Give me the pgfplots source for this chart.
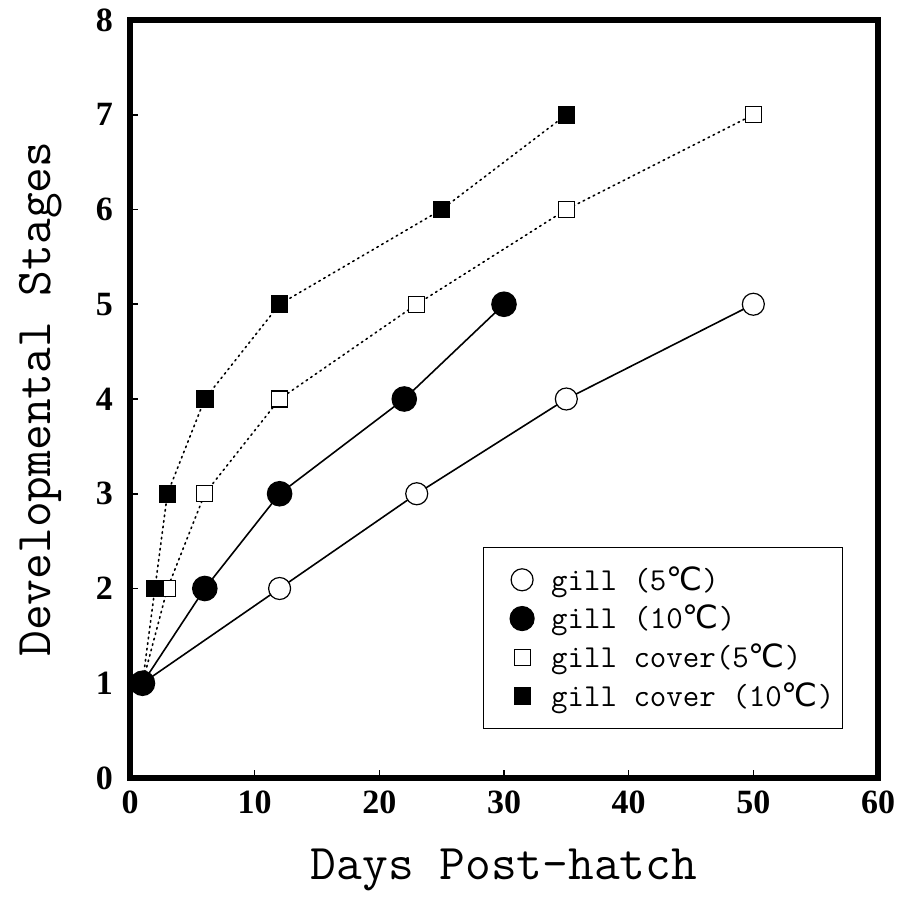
\documentclass[border=0pt]{standalone}
\usepackage{fontspec}
\usepackage{pgfplots}
\pgfplotsset{compat=1.18}
\setmainfont{Liberation Serif}
\newfontfamily\symfont{DejaVu Sans}
\newcommand{\degC}{{\symfont ℃}}

\pgfplotstableread{
x y
1 1
12 2
23 3
35 4
50 5
}\gillfive
\pgfplotstableread{
x y
1 1
6 2
12 3
22 4
30 5
}\gillten
\pgfplotstableread{
x y
1 1
3 2
6 3
12 4
23 5
35 6
50 7
}\coverfive
\pgfplotstableread{
x y
1 1
2 2
3 3
6 4
12 5
25 6
35 7
}\coverten

\begin{document}
\begin{tikzpicture}
\begin{axis}[
  scale only axis, width=374pt, height=379pt,
  xmin=0, xmax=60, ymin=0, ymax=8,
  xtick={0,10,...,60}, ytick={0,1,...,8},
  tick align=inside, xtick pos=bottom, ytick pos=left,
  major tick length=4pt,
  axis line style={line width=3pt, line cap=rect},
  tick style={line width=0.8pt, black},
  /pgf/number format/assume math mode=true,
  ticklabel style={font=\bfseries\fontsize{17}{17}\selectfont},
  yticklabel style={xshift=-5pt},
  xticklabel style={yshift=-3pt},
  xlabel={Days Post-hatch},
  ylabel={Developmental Stages},
  xlabel style={font=\ttfamily\fontsize{25}{25}\selectfont, at={(axis description cs:0.5,-0.121)}, anchor=center},
  ylabel style={font=\ttfamily\fontsize{25}{25}\selectfont, at={(axis description cs:-0.12,0.5)}, anchor=center},
  legend style={at={(rel axis cs:0.953,0.305)}, anchor=north east, draw=black, line width=0.6pt,
    font=\ttfamily\fontsize{16}{16}\selectfont, row sep=2pt, column sep=6.5pt, inner xsep=2pt, inner ysep=7.5pt,
    cells={anchor=west}},
  legend image code/.code={\path (0pt,0pt); \draw[#1] plot coordinates {(17pt,0pt)};},
]
\addlegendimage{black, mark=*, mark size=5.5pt, mark options={fill=white, line width=0.6pt}}
\addlegendentry{gill (5\degC)}
\addlegendimage{black, mark=*, mark size=6pt, mark options={fill=black}}
\addlegendentry{gill (10\degC)}
\addlegendimage{black, mark=square*, mark size=4pt, mark options={fill=white, line width=0.6pt}}
\addlegendentry{gill cover(5\degC)}
\addlegendimage{black, mark=square*, mark size=4pt, mark options={fill=black}}
\addlegendentry{gill cover (10\degC)}

\addplot[forget plot, black, line width=0.8pt, dotted, line cap=round, mark=square*, mark size=4pt, mark options={solid, fill=white, line width=0.6pt}] table {\coverfive};
\addplot[forget plot, black, line width=0.8pt, dotted, line cap=round, mark=square*, mark size=4pt, mark options={solid, fill=black}] table {\coverten};
\addplot[forget plot, black, line width=0.8pt, mark=*, mark size=5.5pt, mark options={fill=white, line width=0.6pt}] table {\gillfive};
\addplot[forget plot, black, line width=0.8pt, mark=*, mark size=6pt, mark options={fill=black}] table {\gillten};
\end{axis}
\pgfresetboundingbox
\path ([shift={(-65pt,-67pt)}]current axis.south west) rectangle ([shift={(12.5pt,10pt)}]current axis.north east);
\end{tikzpicture}
\end{document}
